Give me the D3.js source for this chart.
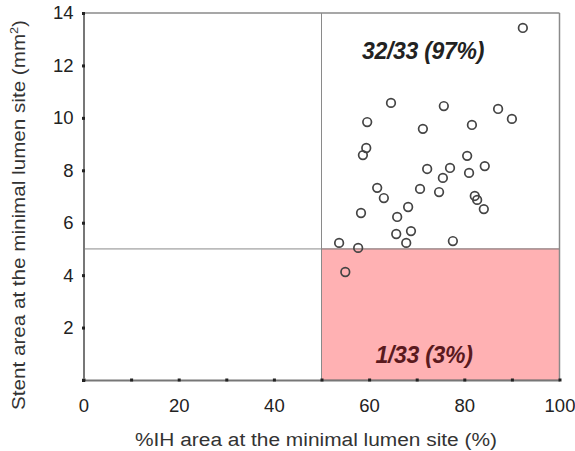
<!DOCTYPE html>
<html><head><meta charset="utf-8">
<script src="https://cdn.jsdelivr.net/npm/d3@7"></script>
<style>body{margin:0;background:#fff;}svg{display:block;font-family:Arial,"Liberation Sans",sans-serif;}</style>
</head><body>
<svg id="c" width="575" height="451"></svg>
<script>
const ihPercent = [92.3,64.6,59.6,71.3,75.7,81.6,87.1,90.0,59.4,58.7,80.6,72.2,77.0,75.5,81.0,84.3,61.7,63.1,70.7,74.7,82.2,82.7,84.1,58.3,68.2,65.9,65.7,68.8,67.8,77.6,53.7,57.7,55.0];
const stentArea = [13.43,10.57,9.84,9.58,10.45,9.73,10.34,9.96,8.85,8.58,8.55,8.05,8.09,7.71,7.90,8.16,7.33,6.94,7.29,7.17,7.02,6.87,6.52,6.37,6.60,6.22,5.57,5.68,5.23,5.30,5.23,5.04,4.12];
const xTickLabels = [0,20,40,60,80,100];
const xMinorTicks = [0,10,20,30,40,50,60,70,80,90,100];
const yTickLabels = [2,4,6,8,10,12,14];
const yTicks = [0,2,4,6,8,10,12,14];
const xCut = 50, yCut = 5;
const labelAbove = "32/33 (97%)", labelBelow = "1/33 (3%)";
const xTitle = "%IH area at the minimal lumen site (%)";

const svg = d3.select("#c");
const x = d3.scaleLinear().domain([0,100]).range([83.5,559.5]);
const y = d3.scaleLinear().domain([0,14]).range([380,13]);
const FONT = "Arial,'Liberation Sans',sans-serif";

// red region
svg.append("rect").attr("x",x(xCut)).attr("y",y(yCut)).attr("width",x(100)-x(xCut)).attr("height",y(0)-y(yCut))
  .attr("fill","#ffb1b3").attr("stroke","#c98a8c").attr("stroke-width",1);

// frame top & right
svg.append("line").attr("x1",x(0)).attr("x2",x(100)).attr("y1",y(14)).attr("y2",y(14)).attr("stroke","#8a8a8a").attr("stroke-width",1.5);
svg.append("line").attr("x1",x(100)).attr("x2",x(100)).attr("y1",y(14)).attr("y2",y(0)).attr("stroke","#8a8a8a").attr("stroke-width",1.5);
// reference lines
svg.append("line").attr("x1",x(xCut)).attr("x2",x(xCut)).attr("y1",y(14)).attr("y2",y(0)).attr("stroke","#8a8a8a").attr("stroke-width",1);
svg.append("line").attr("x1",x(0)).attr("x2",x(100)).attr("y1",y(yCut)).attr("y2",y(yCut)).attr("stroke","#8a8a8a").attr("stroke-width",1);

// axes
const xAxis = svg.append("g").attr("transform",`translate(0,${y(0)})`)
  .call(d3.axisBottom(x).tickValues(xMinorTicks).tickSize(0).tickPadding(0).tickFormat(""));
xAxis.select(".domain").attr("stroke","#777").attr("stroke-width",2);
xAxis.selectAll(".tick").append("rect").attr("x",-1.5).attr("y",-1.5).attr("width",3).attr("height",3).attr("fill","#222");
const xLab = svg.append("g").attr("transform",`translate(0,${y(0)})`)
  .call(d3.axisBottom(x).tickValues(xTickLabels).tickSize(0).tickPadding(19).tickFormat(d3.format("d")));
xLab.select(".domain").remove();
xLab.selectAll("text").attr("font-size",18.5).attr("fill","#222").attr("font-family",FONT);

const yAxis = svg.append("g").attr("transform",`translate(${x(0)},0)`)
  .call(d3.axisLeft(y).tickValues(yTicks).tickSize(0).tickPadding(10).tickFormat(d => yTickLabels.includes(d) ? d : ""));
yAxis.select(".domain").attr("stroke","#777").attr("stroke-width",2);
yAxis.selectAll("text").attr("font-size",18.5).attr("fill","#222").attr("font-family",FONT);
yAxis.selectAll(".tick").append("rect").attr("x",-1.5).attr("y",-1.5).attr("width",3).attr("height",3).attr("fill","#222");

// titles
svg.append("text").attr("x",316).attr("y",446).attr("text-anchor","middle").attr("font-size",18)
  .attr("textLength",362).attr("lengthAdjust","spacingAndGlyphs").attr("fill","#333").text(xTitle);
const yt = svg.append("text").attr("transform","translate(25,215) rotate(-90)").attr("text-anchor","middle").attr("font-size",18).attr("fill","#333")
  .attr("textLength",390).attr("lengthAdjust","spacingAndGlyphs");
yt.append("tspan").text("Stent area at the minimal lumen site (mm");
yt.append("tspan").attr("font-size",11).attr("dy",-7).text("2");
yt.append("tspan").attr("dy",7).text(")");

// labels
svg.append("text").attr("x",423).attr("y",59).attr("text-anchor","middle").attr("font-size",23).attr("font-weight","bold").attr("font-style","italic").attr("fill","#222").attr("letter-spacing",-0.3).text(labelAbove);
svg.append("text").attr("x",424).attr("y",363).attr("text-anchor","middle").attr("font-size",23).attr("font-weight","bold").attr("font-style","italic").attr("fill","#5a1a1e").attr("letter-spacing",-0.3).text(labelBelow);

// points
svg.append("g").selectAll("circle").data(ihPercent.map((v,i)=>[v,stentArea[i]])).join("circle")
  .attr("cx",d=>x(d[0])).attr("cy",d=>y(d[1])).attr("r",4.3)
  .attr("fill","none").attr("stroke","#444").attr("stroke-width",1.7);
</script>
</body></html>
